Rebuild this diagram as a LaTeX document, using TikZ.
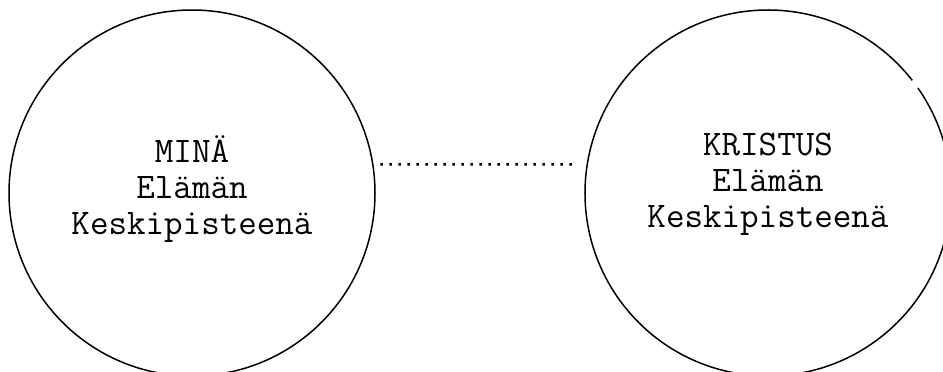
\documentclass[tikz,border=0pt]{standalone}
\usepackage{fontspec}
\begin{document}
\begin{tikzpicture}[x=1pt,y=-1pt,
    ympyra/.style={circle,minimum size=366pt,inner sep=0pt},
    teksti/.style={align=center,font=\ttfamily\fontsize{36}{36}\selectfont}]
    % page size
    \useasboundingbox (0,0) rectangle (943,372);

    % left circle
    \node[ympyra,draw,line width=1.5pt] (mina) at (192,193) {};
    \node[teksti] (minateksti) at ([yshift=4pt]mina.center) {MINÄ\\Elämän\\Keskipisteenä};

    % right circle, its line has a small break at the top right
    \node[ympyra] (kristus) at (768,193) {};
    \draw[line width=1.5pt] ([shift={(38:183pt)}]kristus.center) arc[start angle=38,end angle=395,radius=183pt];
    \node[teksti] (kristusteksti) at ([yshift=9pt]kristus.center) {KRISTUS\\Elämän\\Keskipisteenä};

    % dotted link between the circles
    \draw[line width=2.5pt,dash pattern=on 2.5pt off 6.5pt] ([xshift=7pt]mina.9) -- ([xshift=-14pt]kristus.171);
\end{tikzpicture}
\end{document}
